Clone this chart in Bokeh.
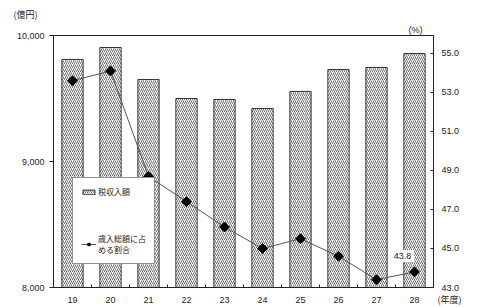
from bokeh.plotting import figure
from bokeh.models import (Range1d, LinearAxis, FixedTicker, Legend, LegendItem,
                          Label, ColumnDataSource, Title)
from bokeh.embed import file_html
from bokeh.resources import INLINE

years = [19, 20, 21, 22, 23, 24, 25, 26, 27, 28]
year_labels = ["19", "20", "21", "22", "23", "24", "25", "26", "27", "28"]
tax_revenue = [9810, 9905, 9651, 9500, 9492, 9421, 9556, 9730, 9746, 9857]
share_pct = [53.6, 54.1, 48.7, 47.4, 46.1, 45.0, 45.5, 44.6, 43.4, 43.8]
left_ticks = [8000, 9000, 10000]
right_ticks = [43.0, 45.0, 47.0, 49.0, 51.0, 53.0, 55.0]

NUM_FONT = "Liberation Sans"
JP_FONT = "Noto Sans CJK JP"

p = figure(width=480, height=307, output_backend="svg", toolbar_location=None,
           x_range=Range1d(18.5, 28.5), y_range=Range1d(8000, 10000),
           min_border_left=53, min_border_right=47, min_border_top=35,
           min_border_bottom=20)
p.xgrid.visible = False
p.ygrid.visible = False
p.outline_line_color = "#222222"
p.outline_line_width = 1
p.background_fill_color = "white"

p.extra_y_ranges = {"pct": Range1d(43.0, 55.92)}

src = ColumnDataSource(dict(x=years, tax=tax_revenue, pct=share_pct))

bars = p.vbar(x="x", top="tax", bottom=8000, width=0.56, source=src,
              fill_color="white", line_color="#333333", line_width=1,
              hatch_pattern="/", hatch_color="#707070", hatch_scale=4,
              hatch_weight=1)

ln = p.line(x="x", y="pct", source=src, y_range_name="pct",
            line_color="#555555", line_width=1)
pts = p.scatter(x="x", y="pct", source=src, y_range_name="pct", marker="square",
                angle=0.785398, size=7, fill_color="black", line_color="black")

# x axis
xa = p.xaxis[0]
xa.ticker = FixedTicker(ticks=years, minor_ticks=[y + 0.5 for y in years[:-1]])
xa.major_label_overrides = {y: l for y, l in zip(years, year_labels)}
xa.major_tick_line_color = None
xa.minor_tick_in = 3
xa.minor_tick_out = 0
xa.minor_tick_line_color = "#222222"
xa.axis_line_color = "#222222"
xa.major_label_text_font = NUM_FONT
xa.major_label_text_font_size = "9px"
xa.major_label_text_color = "#222222"
xa.major_label_standoff = 3

# left axis
ya = p.yaxis[0]
ya.ticker = FixedTicker(ticks=left_ticks)
ya.major_label_overrides = {8000: "8,000", 9000: "9,000", 10000: "10,000"}
ya.minor_tick_line_color = None
ya.major_tick_in = 0
ya.major_tick_out = 4
ya.major_tick_line_color = "#222222"
ya.axis_line_color = "#222222"
ya.major_label_text_font = NUM_FONT
ya.major_label_text_font_size = "9px"
ya.major_label_text_color = "#222222"
ya.major_label_standoff = 5

# right axis
ra = LinearAxis(y_range_name="pct", ticker=FixedTicker(ticks=right_ticks))
ra.major_label_overrides = {t: f"{t:.1f}" for t in right_ticks}
ra.minor_tick_line_color = None
ra.major_tick_in = 3
ra.major_tick_out = 0
ra.major_tick_line_color = "#222222"
ra.axis_line_color = "#222222"
ra.major_label_text_font = NUM_FONT
ra.major_label_text_font_size = "9px"
ra.major_label_text_color = "#222222"
ra.major_label_standoff = 8
p.add_layout(ra, "right")

# legend
legend = Legend(items=[LegendItem(label="税収入額", renderers=[bars]),
                       LegendItem(label="歳入総額に占\nめる割合", renderers=[ln, pts])],
                location=(19, 23), orientation="vertical",
                border_line_color="#222222", border_line_width=1,
                background_fill_color="white", background_fill_alpha=1,
                label_text_font=JP_FONT, label_text_font_size="8px",
                label_text_color="#222222", label_height=10,
                glyph_width=15, glyph_height=6, spacing=36,
                padding=8, margin=0, label_standoff=2)
p.add_layout(legend, "center")

# value label
p.add_layout(Label(x=28, y=43.8, y_range_name="pct", text="43.8",
                   x_offset=-12, y_offset=10, text_align="center",
                   text_font=NUM_FONT, text_font_size="9px", text_color="#222222",
                   background_fill_color="white", background_fill_alpha=1,
                   padding=3))

# unit labels
p.add_layout(Title(text="(%)", align="right", offset=11, standoff=2,
                   text_font=NUM_FONT, text_font_size="9px", text_color="#222222",
                   text_font_style="normal"), "above")
p.add_layout(Title(text="(億円)", align="left", offset=-40, standoff=1,
                   text_font=JP_FONT, text_font_size="9px", text_color="#222222",
                   text_font_style="normal"), "above")
p.add_layout(Title(text="(年度)", align="right", offset=-28, standoff=-26,
                   vertical_align="top",
                   text_font=JP_FONT, text_font_size="9px", text_color="#222222",
                   text_font_style="normal"), "below")

open("out.html", "w").write(file_html(p, INLINE))
